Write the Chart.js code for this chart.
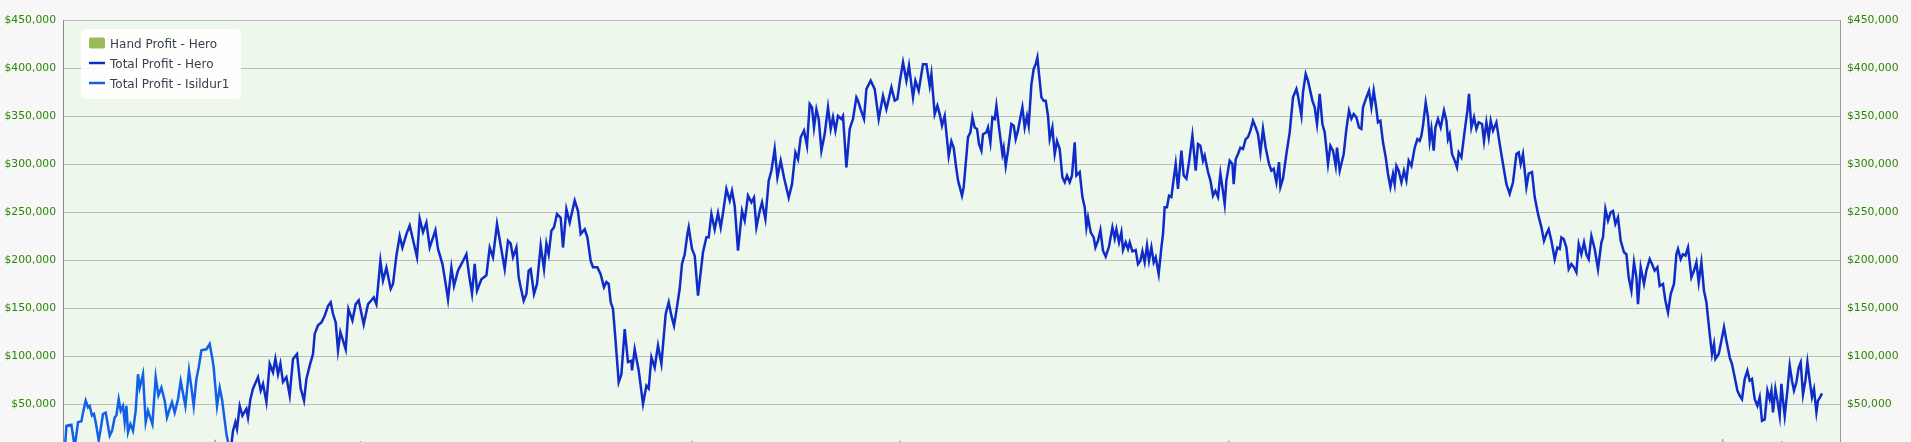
<!DOCTYPE html>
<html>
<head>
<meta charset="utf-8">
<script src="https://cdn.jsdelivr.net/npm/chart.js@4.4.1/dist/chart.umd.min.js"></script>
<style>
    html, body { margin: 0; padding: 0; background: #f7f7f7; overflow: hidden; }
    #wrap { position: absolute; left: 0; top: 0; width: 1911px; height: 480px; }
</style>
</head>
<body>
<div id="wrap"><canvas id="profitChart" width="1911" height="480"></canvas></div>
<script>
// hand numbers (x) and running totals in dollars
const isildurHands = [17, 34, 84, 117, 150, 184, 200, 227, 250, 267, 290, 310, 327, 344, 357, 374, 400, 427, 444, 467,
    490, 517, 534, 557, 577, 600, 617, 634, 650, 674, 700, 727, 750, 767, 800, 827, 850, 894, 927, 954,
    984, 1017, 1040, 1067, 1090, 1117, 1150, 1177, 1224, 1260, 1284, 1307, 1334, 1357, 1384, 1434, 1467, 1494, 1507, 1540,
    1567, 1590, 1634, 1660, 1684];
const isildurProfit = [0, 27400, 28500, 5000, 31000, 32000, 41000, 53500, 46500, 48000, 38000, 39600, 31000, 20500, 12000, 22000, 39600, 41000, 31000, 17000,
    22000, 36000, 38000, 55000, 43000, 48000, 31000, 48000, 20500, 29000, 22000, 43000, 81000, 67000, 81000, 31000, 43000, 29000, 78000, 59000,
    67000, 53500, 36000, 45000, 52000, 41000, 55000, 74000, 48000, 85000, 67000, 48000, 76000, 88000, 106000, 107000, 112500, 97000, 88000, 48000,
    67000, 55000, 19000, 5000, 8000];

const heroHands = [1684, 1700, 1724, 1740, 1767, 1794, 1834, 1850, 1874, 1900, 1950, 1977, 2000, 2034, 2067, 2100, 2124, 2150, 2174, 2200,
    2234, 2267, 2300, 2340, 2377, 2410, 2434, 2467, 2500, 2517, 2550, 2584, 2617, 2650, 2677, 2700, 2727, 2750, 2774, 2827,
    2854, 2894, 2927, 2957, 3007, 3050, 3084, 3107, 3134, 3174, 3200, 3234, 3277, 3300, 3334, 3367, 3394, 3434, 3467, 3540,
    3567, 3600, 3634, 3667, 3724, 3750, 3794, 3827, 3850, 3884, 3910, 3950, 4000, 4034, 4060, 4090, 4117, 4140, 4184, 4234,
    4267, 4300, 4340, 4417, 4450, 4477, 4500, 4534, 4557, 4577, 4607, 4634, 4657, 4677, 4710, 4740, 4777, 4810, 4834, 4857,
    4884, 4910, 4940, 4977, 5000, 5034, 5067, 5117, 5150, 5177, 5217, 5244, 5277, 5300, 5344, 5377, 5410, 5434, 5457, 5477,
    5500, 5524, 5557, 5584, 5617, 5650, 5684, 5690, 5717, 5757, 5800, 5834, 5857, 5884, 5917, 5950, 5984, 6027, 6057, 6084,
    6110, 6134, 6167, 6190, 6217, 6244, 6257, 6290, 6317, 6350, 6400, 6434, 6457, 6484, 6517, 6550, 6577, 6600, 6634, 6667,
    6690, 6717, 6750, 6790, 6817, 6850, 6884, 6910, 6934, 6967, 6990, 7024, 7057, 7084, 7117, 7144, 7177, 7210, 7257, 7290,
    7324, 7350, 7377, 7410, 7440, 7467, 7490, 7510, 7534, 7557, 7584, 7617, 7650, 7677, 7700, 7724, 7750, 7784, 7800, 7834,
    7867, 7900, 7934, 7950, 7977, 8010, 8034, 8077, 8117, 8157, 8200, 8234, 8284, 8317, 8344, 8367, 8400, 8434, 8460, 8500,
    8524, 8557, 8600, 8634, 8667, 8684, 8717, 8744, 8767, 8790, 8817, 8857, 8884, 8907, 8927, 8950, 8990, 9007, 9050, 9074,
    9094, 9117, 9140, 9160, 9184, 9200, 9234, 9250, 9274, 9294, 9317, 9334, 9360, 9394, 9407, 9427, 9450, 9484, 9507, 9527,
    9550, 9574, 9594, 9617, 9640, 9657, 9684, 9707, 9727, 9744, 9760, 9784, 9807, 9827, 9850, 9867, 9894, 9917, 9940, 9967,
    9994, 10017, 10040, 10067, 10090, 10117, 10134, 10167, 10194, 10217, 10234, 10250, 10277, 10307, 10324, 10350, 10374, 10400, 10427, 10460,
    10494, 10517, 10534, 10560, 10584, 10600, 10627, 10650, 10667, 10694, 10727, 10750, 10774, 10794, 10817, 10840, 10860, 10884, 10907, 10927,
    10957, 10984, 11000, 11017, 11040, 11060, 11084, 11100, 11127, 11150, 11184, 11207, 11234, 11260, 11294, 11327, 11350, 11374, 11400, 11417,
    11450, 11474, 11500, 11524, 11550, 11574, 11594, 11617, 11634, 11667, 11694, 11707, 11727, 11750, 11774, 11800, 11827, 11850, 11874, 11900,
    11927, 11950, 11974, 12000, 12027, 12060, 12084, 12107, 12134, 12160, 12174, 12200, 12234, 12267, 12300, 12334, 12350, 12384, 12400, 12427,
    12450, 12494, 12517, 12540, 12567, 12594, 12617, 12650, 12674, 12700, 12727, 12740, 12767, 12807, 12834, 12860, 12884, 12907, 12934, 12960,
    12984, 13000, 13034, 13060, 13084, 13107, 13134, 13150, 13174, 13200, 13227, 13250, 13274, 13300, 13317, 13334, 13357, 13384, 13410, 13434,
    13457, 13484, 13517, 13544, 13567, 13584, 13600, 13627, 13650, 13667, 13684, 13707, 13724, 13750, 13777, 13810, 13834, 13850, 13867, 13890,
    13917, 13940, 13957, 13984, 14017, 14044, 14060, 14084, 14110, 14134, 14157, 14190, 14210, 14234, 14257, 14277, 14300, 14334, 14367, 14400,
    14434, 14467, 14500, 14534, 14557, 14577, 14600, 14634, 14657, 14690, 14717, 14750, 14784, 14810, 14834, 14857, 14884, 14917, 14944, 14967,
    14984, 15007, 15034, 15057, 15084, 15110, 15134, 15157, 15184, 15210, 15234, 15257, 15284, 15317, 15350, 15384, 15400, 15424, 15450, 15477,
    15500, 15524, 15550, 15577, 15610, 15634, 15657, 15684, 15710, 15734, 15750, 15777, 15810, 15834, 15867, 15890, 15917, 15944, 15967, 16000,
    16024, 16050, 16077, 16110, 16134, 16150, 16177, 16200, 16224, 16250, 16284, 16310, 16334, 16357, 16384, 16410, 16434, 16467, 16490, 16510,
    16524, 16557, 16584, 16610, 16634, 16667, 16690, 16717, 16744, 16767, 16790, 16817, 16844, 16867, 16890, 16917, 16944, 16967, 16990, 17017,
    17044, 17067, 17084, 17100, 17124, 17144, 17167, 17184, 17200, 17217, 17244, 17267, 17290, 17310, 17334, 17357, 17377, 17400, 17424, 17444,
    17467, 17490, 17510, 17534, 17550, 17570, 17590];
const heroProfit = [8000, 22000, 31000, 24000, 48000, 38000, 45000, 36000, 55000, 66000, 78000, 64000, 71000, 52000, 92000, 83000, 97000, 81000, 92000, 73000,
    78000, 59000, 97000, 102000, 66000, 53500, 76000, 90000, 102000, 123000, 132000, 135000, 142000, 152000, 156000, 144000, 135000, 106000, 125000, 107000,
    149000, 137000, 154000, 158000, 133000, 154000, 158000, 161000, 154000, 199000, 178500, 192000, 170000, 175000, 204500, 225000, 213000, 227000, 236000, 203000,
    243000, 229000, 239000, 213000, 231000, 211500, 196000, 175000, 159000, 192000, 173000, 189000, 199000, 206000, 185000, 165000, 196000, 168000, 180000, 184000,
    213000, 203000, 237500, 190600, 220000, 217000, 203000, 213000, 182000, 171500, 157600, 164600, 189000, 190600, 164600, 175000, 215000, 190600, 217000, 206000,
    230600, 234000, 248000, 244000, 213000, 253000, 239000, 262000, 251000, 227000, 232000, 223600, 199000, 192400, 192400, 185000, 171500, 177000, 175000, 156000,
    149000, 118000, 72600, 81000, 128000, 93700, 95000, 85000, 107000, 85000, 50000, 69000, 66000, 98600, 88000, 111000, 92000, 143800, 156000, 142000,
    131600, 147000, 170000, 196000, 206000, 227000, 234000, 211500, 204500, 162800, 208000, 223600, 223600, 248000, 232000, 249000, 234000, 249000, 274000, 262000,
    272000, 256600, 209700, 251000, 241000, 267000, 260000, 265000, 234000, 251000, 260000, 242700, 282600, 293000, 315600, 286000, 303500, 286000, 265000, 279000,
    312000, 305000, 327800, 334700, 319000, 362500, 359000, 338000, 357000, 346900, 313900, 331200, 359000, 336500, 348600, 334700, 350000, 346900, 350000, 296500,
    336500, 346900, 369400, 366000, 357000, 346900, 378000, 386800, 378000, 346900, 371000, 357000, 379800, 366000, 367700, 385000, 405900, 386800, 402400, 369400,
    386800, 376400, 404000, 404000, 381600, 393800, 352000, 360800, 352000, 340000, 350000, 308000, 323600, 317000, 300000, 283000, 267000, 276000, 328000, 333000,
    348600, 338000, 336500, 320800, 313900, 331000, 333000, 338000, 322600, 348600, 346900, 360800, 338000, 310400, 317000, 298000, 313900, 341700, 340000, 326000,
    335000, 348600, 359000, 338000, 350000, 340000, 383000, 399000, 404000, 411000, 393800, 369400, 366000, 366000, 350300, 326000, 338000, 310400, 324000, 315600,
    286000, 281000, 288000, 281000, 288000, 322600, 288000, 291600, 265600, 255000, 234000, 244400, 228800, 223600, 213200, 220000, 231000, 209700, 203500, 214000,
    234000, 222600, 232000, 218400, 229000, 210400, 218400, 211500, 218400, 209000, 210400, 195800, 199300, 209000, 197600, 215000, 199300, 213200, 197600, 202800,
    185400, 213200, 227000, 255000, 255000, 267000, 265600, 279000, 300000, 274000, 313900, 288000, 284700, 301700, 329500, 293000, 320800, 319000, 303500, 308700,
    291600, 283000, 267000, 272000, 265600, 290000, 275700, 258300, 283000, 303500, 300000, 279000, 305000, 310400, 317000, 315600, 326000, 328000, 334700, 345000,
    338000, 331000, 312000, 336500, 317000, 300000, 293000, 295000, 281000, 302000, 276000, 285000, 310400, 333000, 369400, 378000, 371000, 350300, 374600, 393800,
    386800, 366000, 359000, 341700, 373000, 341700, 333000, 300000, 319000, 313900, 298000, 317000, 293000, 310400, 336500, 355500, 347000, 352000, 348600, 338000,
    336500, 359000, 369400, 376400, 359000, 376400, 357000, 343400, 345000, 322600, 307000, 289600, 276000, 289600, 279000, 298000, 293000, 281000, 293000, 283000,
    303500, 298000, 317000, 326000, 324000, 329500, 340000, 364000, 348600, 324000, 336500, 313900, 338000, 346900, 338000, 355500, 345000, 326000, 331000, 310400,
    303500, 296500, 312000, 306900, 334700, 355500, 373000, 338000, 348600, 336500, 343400, 341700, 324000, 343400, 328000, 345000, 334700, 343400, 320800, 300000,
    279000, 269000, 281000, 310400, 312000, 300000, 310400, 276000, 290000, 291600, 265600, 248000, 234000, 220000, 227000, 232000, 220000, 201000, 213000, 211500,
    223600, 221900, 213000, 190600, 195800, 192400, 187200, 216500, 206000, 218400, 206000, 201000, 225000, 211500, 190600, 218400, 223600, 253000, 241000, 249700,
    251000, 237500, 244400, 220000, 208000, 206000, 182000, 168000, 197600, 182000, 154000, 192400, 175000, 189000, 201000, 195800, 189000, 192400, 173000, 175000,
    157600, 145500, 164600, 175000, 206000, 211500, 201000, 206000, 204500, 213000, 182000, 189000, 197600, 176700, 197600, 168000, 156000, 123000, 102000, 112500,
    97000, 102000, 116000, 130000, 116000, 98600, 91700, 77800, 63900, 58700, 55000, 76000, 84700, 74300, 76000, 55000, 48000, 57000, 32600, 34000,
    64000, 55000, 64000, 41300, 65600, 53500, 37800, 71000, 53500, 37800, 64000, 90000, 74300, 64000, 72600, 88000, 93400, 60000, 74300, 93400,
    74300, 57000, 65600, 41300, 53500, 57000, 61000];

// only the biggest single-hand wins reach into view
const handHands = [1520, 2974, 6290, 8367, 11657, 16597, 17187];
const handProfit = [12300, 11000, 11500, 11500, 11500, 13000, 11000];

const maxHands = 17770;

function pairs(xs, ys) {
    return xs.map((x, i) => ({x: x, y: ys[i]}));
}

function money(value) {
    return '$' + Number(value).toLocaleString('en-US');
}

const plotBackground = {
    id: 'plotBackground',
    beforeDraw(chart) {
        const {ctx, chartArea} = chart;
        ctx.save();
        ctx.fillStyle = '#edf7ec';
        ctx.fillRect(chartArea.left, chartArea.top, chartArea.right - chartArea.left, chartArea.bottom - chartArea.top);
        ctx.restore();
    }
};

// legend box drawn inside the plot, top left
const boxLegend = {
    id: 'boxLegend',
    afterDatasetsDraw(chart) {
        const {ctx, chartArea} = chart;
        const x = chartArea.left + 18;
        const y = chartArea.top + 9;
        ctx.save();
        ctx.fillStyle = 'rgba(255,255,255,0.9)';
        ctx.beginPath();
        ctx.roundRect(x, y, 160, 70, 5);
        ctx.fill();
        ctx.font = '12px "DejaVu Sans"';
        ctx.textBaseline = 'alphabetic';
        chart.data.datasets.forEach((ds, i) => {
            const rowY = y + 14 + i * 20;
            if (ds.type === 'bar') {
                ctx.fillStyle = ds.backgroundColor;
                ctx.beginPath();
                ctx.roundRect(x + 8, rowY - 5.5, 16, 11, 2);
                ctx.fill();
            } else {
                ctx.strokeStyle = ds.borderColor;
                ctx.lineWidth = 2.5;
                ctx.beginPath();
                ctx.moveTo(x + 8, rowY);
                ctx.lineTo(x + 24, rowY);
                ctx.stroke();
            }
            ctx.fillStyle = '#38414f';
            ctx.fillText(ds.label, x + 29, rowY + 5);
        });
        ctx.restore();
    }
};

const tickStyle = {
    stepSize: 50000,
    padding: 7,
    color: '#2b8500',
    font: {family: '"DejaVu Sans"', size: 10.8},
    callback: money
};

new Chart(document.getElementById('profitChart').getContext('2d'), {
    type: 'line',
    data: {
        datasets: [{
            type: 'bar',
            label: 'Hand Profit - Hero',
            data: pairs(handHands, handProfit),
            backgroundColor: '#9bbb59',
            barThickness: 1,
            yAxisID: 'y',
            order: 3
        }, {
            type: 'line',
            label: 'Total Profit - Hero',
            data: pairs(heroHands, heroProfit),
            borderColor: '#0f2cc8',
            borderWidth: 2.5,
            pointRadius: 0,
            tension: 0,
            yAxisID: 'y',
            order: 1
        }, {
            type: 'line',
            label: 'Total Profit - Isildur1',
            data: pairs(isildurHands, isildurProfit),
            borderColor: '#1360e8',
            borderWidth: 2.5,
            pointRadius: 0,
            tension: 0,
            yAxisID: 'y',
            order: 2
        }]
    },
    options: {
        responsive: false,
        animation: false,
        layout: {padding: {top: 20, bottom: 28, left: 0, right: 0}},
        plugins: {
            legend: {display: false},
            tooltip: {enabled: false}
        },
        scales: {
            x: {type: 'linear', min: 0, max: maxHands, offset: false, display: false, grid: {offset: false}},
            y: {
                position: 'left',
                min: 0,
                max: 450000,
                ticks: tickStyle,
                grid: {color: '#bdbdbd', drawTicks: false},
                border: {color: '#8a8a8a'},
                afterFit: (scale) => { scale.width = 63; }
            },
            y2: {
                position: 'right',
                min: 0,
                max: 450000,
                ticks: tickStyle,
                grid: {drawOnChartArea: false, drawTicks: false},
                border: {color: '#9a9a9a'},
                afterFit: (scale) => { scale.width = 71; }
            }
        }
    },
    plugins: [plotBackground, boxLegend]
});
</script>
</body>
</html>
